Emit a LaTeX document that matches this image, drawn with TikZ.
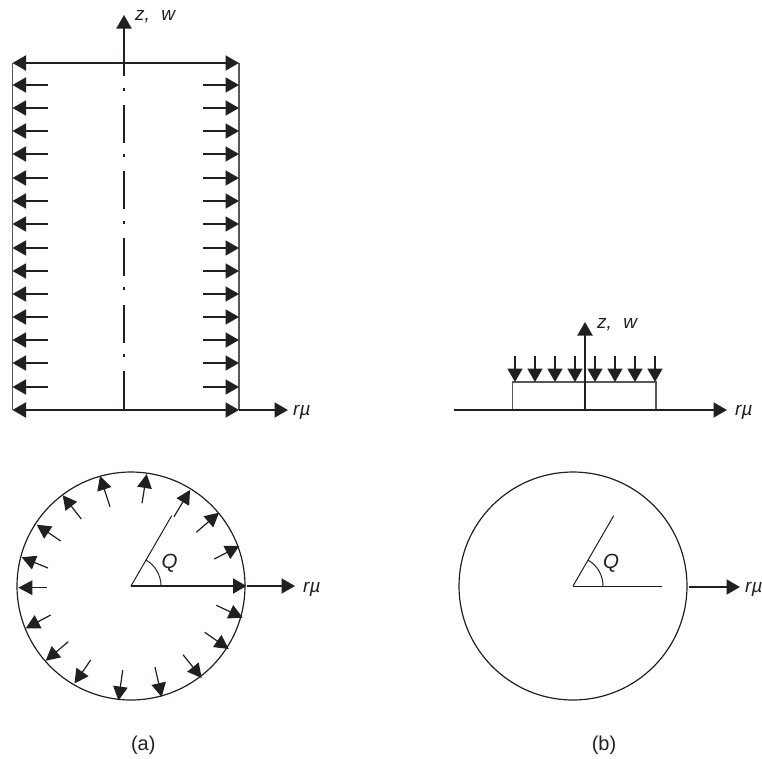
\documentclass[tikz,border=0pt]{standalone}
\usepackage{fontspec}
\setmainfont{Liberation Sans}
\usetikzlibrary{arrows.meta}
\definecolor{ink}{HTML}{231F20}
\tikzset{
  thin line/.style={draw=ink,line width=1pt},
  wall/.style={draw=ink!75,line width=1.2pt},
  axis/.style={draw=ink,line width=2pt,-{Triangle[length=13.5pt,width=15pt]}},
  force/.style={draw=ink,line width=1.8pt,-{Triangle[length=13.5pt,width=15pt]}},
  dforce/.style={draw=ink,line width=2pt,{Triangle[length=13.5pt,width=15pt]}-{Triangle[length=13.5pt,width=15pt]}},
  radial/.style={draw=ink,line width=1.2pt,-{Triangle[length=14pt,width=14.5pt]}},
  centre line/.style={draw=ink,line width=2pt},
  lab/.style={inner sep=0pt,text=ink,font=\fontsize{20}{22}\selectfont},
  ilab/.style={lab,anchor=base west,font=\fontsize{19}{21}\selectfont\itshape},
  qlab/.style={lab,anchor=base,font=\fontsize{20.5}{22}\selectfont\itshape}
}
\begin{document}
\begin{tikzpicture}[x=1pt,y=-1pt]
\useasboundingbox (0,0) rectangle (762,758);
% ---- (a) elevation
\coordinate (aTL) at (12.5,63);
\coordinate (aTR) at (239,63);
\coordinate (aBL) at (12.5,410);
\coordinate (aBR) at (239,410);
\coordinate (aAxB) at (124,410);
\coordinate (aAxT) at (124,15);
\coordinate (aRt) at (288,410);
\draw[wall] (aTL) -- (aBL);
\draw[wall] (aTR) -- (aBR);
\draw[dforce] (aTL) -- (aTR);
\draw[dforce] (aBL) -- (aBR);
\draw[axis] (124,63) -- (aAxT);
\draw[axis] (aBR) -- (aRt);
\foreach \a/\b in {63/76,105/143,171/209,238/276,305/343,371/410}
  \draw[centre line] (124,\a) -- (124,\b);
\foreach \d in {89,155,222,288,355}
  \draw[centre line] (124,\d-1.5) -- (124,\d+1.5);
\foreach \y in {85,108,131,154,178,201,224,248,271,294,317,340,363,387}{
  \draw[force] (48,\y) -- (12.5,\y);
  \draw[force] (203,\y) -- (239,\y);
}
\node[ilab] (azw) at (135,20) {z,\hspace{6pt} w};
\node[ilab] (aru) at (293,415) {rµ};
% ---- (a) plan
\coordinate (aC) at (131,586);
\node[circle,draw=ink,line width=1.2pt,minimum size=228pt,inner sep=0pt] (aCirc) at (aC) {};
\coordinate (aQe) at (171.7,515.7);
\draw[thin line] (aC) -- (aQe);
\draw[axis] (aC) -- (246.5,586);
\draw[axis] (246.5,586) -- (295,586);
\draw[thin line] (161,586) arc[start angle=0,end angle=60,radius=30pt];
\foreach \tx/\ty/\hx/\hy in {
  174/516.7/190/490,
  196.3/532.3/219/512.7,
  214.3/559/239.3/546,
  216.3/605.3/242.7/617.7,
  204.7/632.3/228.7/649,
  183/654.7/201.7/678,
  155/667/161.7/697,
  122.7/670/118.5/700.5,
  90.7/660/74.5/683.5,
  68.3/641.7/45.7/660.7,
  50.7/615/25.7/628.3,
  47/587.7/18.3/587.7,
  48/568/21.7/557.3,
  60.7/541/36.7/524.7,
  81.3/519/62.7/495.3,
  110/506.7/100/476,
  142/503.3/146.7/474}
  \draw[radial] (\tx,\ty) -- (\hx,\hy);
\node[qlab] (aQ) at (169.7,568) {Q};
\node[ilab] (aru2) at (303,592) {rµ};
\node[lab,anchor=base] (acap) at (143.3,750) {(a)};
% ---- (b) elevation
\coordinate (bL) at (454,410);
\coordinate (bR) at (727,410);
\coordinate (bAxB) at (585,410);
\coordinate (bAxT) at (585,322);
\draw[wall] (512.5,410) -- (512.5,382) -- (656,382) -- (656,410);
\draw[axis] (bL) -- (bR);
\draw[axis] (bAxB) -- (bAxT);
\foreach \x in {515,535,555,575,595,615,635,655}
  \draw[force] (\x,356) -- (\x,382);
\node[ilab] (bzw) at (597,328) {z,\hspace{6pt} w};
\node[ilab] (bru) at (735,415) {rµ};
% ---- (b) plan
\coordinate (bC) at (573,586);
\node[circle,draw=ink,line width=1.2pt,minimum size=228pt,inner sep=0pt] (bCirc) at (bC) {};
\coordinate (bQe) at (613.7,515.7);
\coordinate (bHe) at (662,586);
\draw[thin line] (bC) -- (bQe);
\draw[thin line] (bC) -- (bHe);
\draw[thin line] (603,586) arc[start angle=0,end angle=60,radius=30pt];
\draw[axis] (689,587) -- (740,587);
\node[qlab] (bQ) at (611,568) {Q};
\node[ilab] (bru2) at (745,592) {rµ};
\node[lab,anchor=base] (bcap) at (604,750) {(b)};
\end{tikzpicture}
\end{document}
